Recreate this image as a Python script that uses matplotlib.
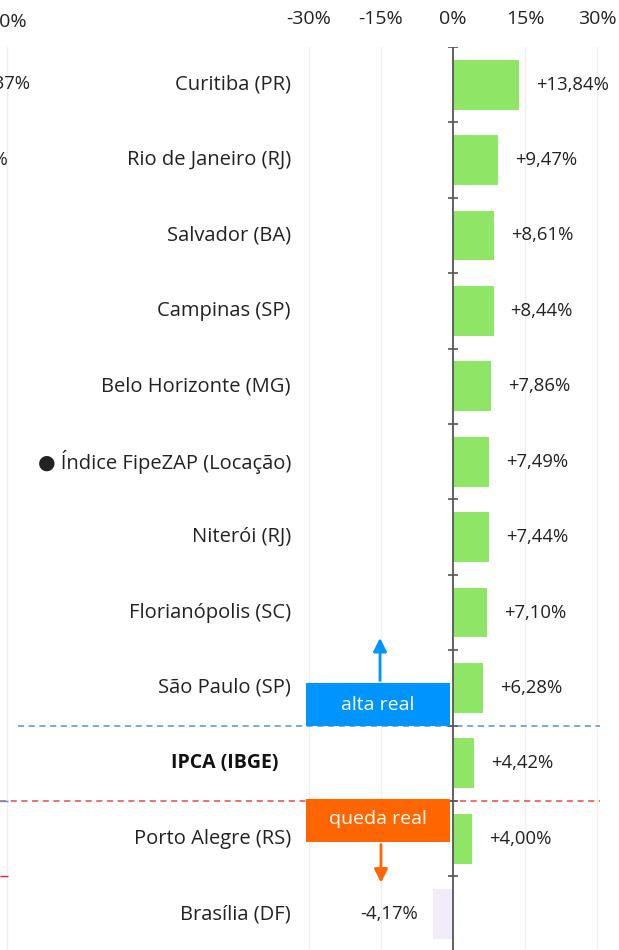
import matplotlib.pyplot as plt

# data
cities = ['Curitiba (PR)', 'Rio de Janeiro (RJ)', 'Salvador (BA)', 'Campinas (SP)',
          'Belo Horizonte (MG)', '● Índice FipeZAP (Locação)', 'Niterói (RJ)',
          'Florianópolis (SC)', 'São Paulo (SP)', 'IPCA (IBGE)', 'Porto Alegre (RS)',
          'Brasília (DF)']
values = [13.84, 9.47, 8.61, 8.44, 7.86, 7.49, 7.44, 7.10, 6.28, 4.42, 4.00, -4.17]
xticks = [-30, -15, 0, 15, 30]
xtick_labels = ['-30%', '-15%', '0%', '15%', '30%']

W, H = 619, 950
PX = 4.8          # pixels per percentage point
ZERO = 453        # pixel x of 0%
ROW = 75.4
TOP = 47

plt.rcParams['font.family'] = ['Open Sans', 'DejaVu Sans']
fig = plt.figure(figsize=(W / 100, H / 100), dpi=100)
ax = fig.add_axes([0, 0, 1, 1 - TOP / H])
ax.set_xlim(-ZERO / PX, (W - ZERO) / PX)
ax.set_ylim((H - TOP) / ROW - 0.5, -0.5)
for s in ax.spines.values():
    s.set_visible(False)
ax.set_yticks([])
ax.xaxis.tick_top()
ax.set_xticks(xticks)
ax.set_xticklabels(xtick_labels, fontsize=14, color='#222')
ax.tick_params(axis='x', length=0, pad=14)

# grid
for t in xticks:
    if t != 0:
        ax.axvline(t, color='#eeeeee', lw=1, zorder=0)
ax.axvline((7 - ZERO) / PX, color='#eeeeee', lw=1, zorder=0)

ys = list(range(len(cities)))
ax.barh(ys, values, height=0.66, color=['#8ee566' if v > 0 else '#f1ebfa' for v in values], zorder=2)

# zero axis with ticks
ax.axvline(0, color='#555555', lw=1.3, zorder=3)
ax.hlines([k - 0.5 for k in range(len(cities) + 1)], -1.1, 1.1, color='#555555', lw=1.2, zorder=3)

for y, (c, v) in enumerate(zip(cities, values)):
    if c.startswith('IPCA'):
        ax.text((278 - ZERO) / PX, y, c, ha='right', va='center', fontsize=14,
                fontweight='bold', color='#111')
    else:
        ax.text((291 - ZERO) / PX, y, c, ha='right', va='center', fontsize=14.5, color='#222')
    lab = ('+' if v > 0 else '') + f'{v:.2f}%'.replace('.', ',')
    if v > 0:
        ax.text(v + 17 / PX, y, lab, ha='left', va='center', fontsize=13.3, color='#222')
    else:
        ax.text(v - 15 / PX, y, lab, ha='right', va='center', fontsize=13.3, color='#222')

# real gain / loss separators
ax.hlines(8.5, (18 - ZERO) / PX, (600 - ZERO) / PX, color='#5b8fd6', lw=1.1, linestyles=(0, (4, 3)), zorder=1)
ax.hlines(9.5, -ZERO / PX, (600 - ZERO) / PX, color='#f04545', lw=1.1, linestyles=(0, (4, 3)), zorder=1)
ax.hlines(9.5, -ZERO / PX, (8 - ZERO) / PX, color='#5b8fd6', lw=1, zorder=1)
ax.hlines(10.5, -ZERO / PX, (8 - ZERO) / PX, color='#ef2020', lw=1, zorder=1)

x0, x1 = (306 - ZERO) / PX, (450 - ZERO) / PX
ax.fill_between([x0, x1], 7.94, 8.51, color='#0094ff', zorder=4, lw=0)
ax.text((x0 + x1) / 2, 8.23, 'alta real', ha='center', va='center', color='white', fontsize=14, zorder=5)
ax.annotate('', xy=((380 - ZERO) / PX, 7.3), xytext=((380 - ZERO) / PX, 7.94),
            arrowprops=dict(arrowstyle='-|>', color='#0094ff', lw=2, mutation_scale=20), zorder=4)
ax.fill_between([x0, x1], 9.48, 10.04, color='#ff6600', zorder=4, lw=0)
ax.text((x0 + x1) / 2, 9.74, 'queda real', ha='center', va='center', color='white', fontsize=14, zorder=5)
ax.annotate('', xy=((381 - ZERO) / PX, 10.62), xytext=((381 - ZERO) / PX, 10.04),
            arrowprops=dict(arrowstyle='-|>', color='#ff6600', lw=2, mutation_scale=20), zorder=4)

# fragments of the neighbouring chart, clipped at the left edge
fig.text(27 / W, 1 - 22 / H, '30%', ha='right', va='center', fontsize=14, color='#222')
fig.text(30 / W, 1 - 84 / H, '+7,37%', ha='right', va='center', fontsize=13.3, color='#222')
fig.text(8 / W, 1 - 160 / H, '+5,1%', ha='right', va='center', fontsize=13.3, color='#222')

fig.savefig('out.png', dpi=100)
